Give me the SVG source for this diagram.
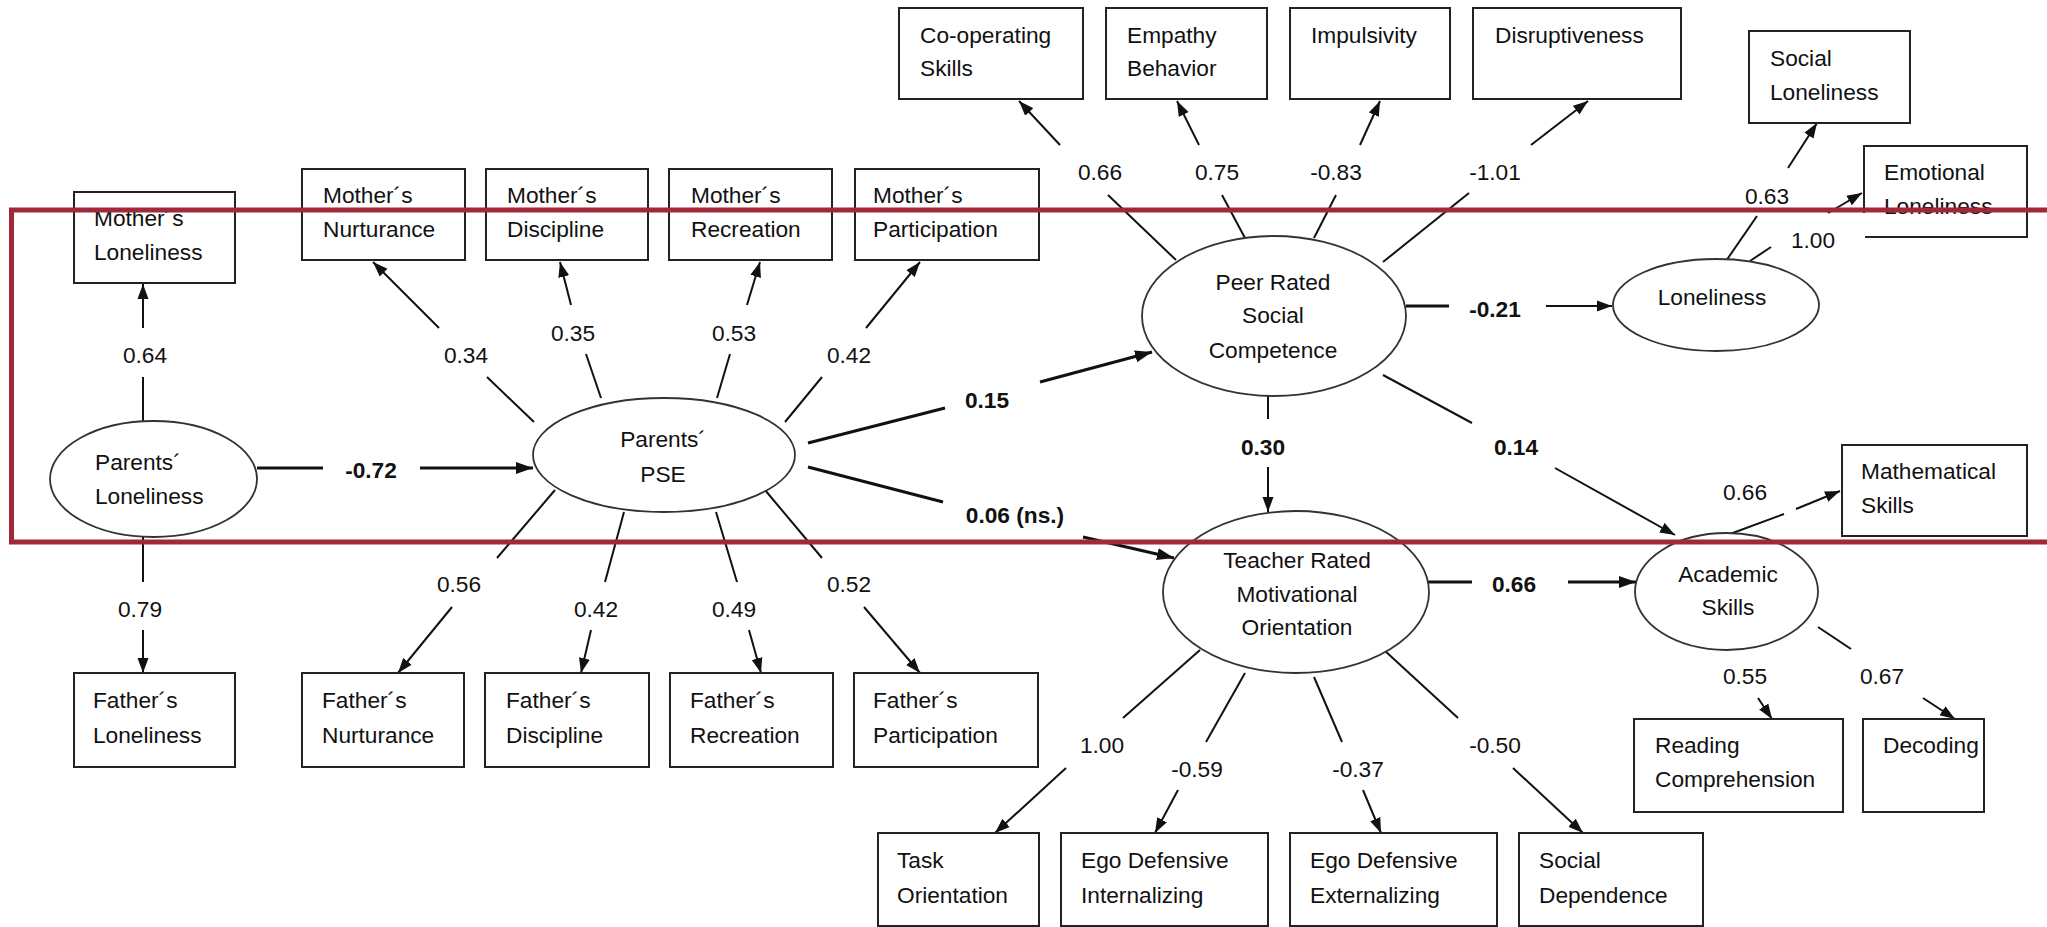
<svg xmlns="http://www.w3.org/2000/svg" width="2047" height="927" viewBox="0 0 2047 927">
<style>
text{font-family:"Liberation Sans",Arial,sans-serif;font-size:22.7px;fill:#111;}
.b{font-weight:bold;}
.c{text-anchor:middle;}
.box{fill:#fff;stroke:#222;stroke-width:2;}
.ell{fill:#fff;stroke:#333;stroke-width:1.8;}
.ln{stroke:#111;stroke-width:2;fill:none;}
.ar{stroke:#111;stroke-width:2;fill:none;marker-end:url(#ah);}
.lnb{stroke:#111;stroke-width:3.2;fill:none;}
.arb{stroke:#111;stroke-width:3.2;fill:none;marker-end:url(#ahb);}
</style>
<defs>
<marker id="ah" markerUnits="userSpaceOnUse" markerWidth="16" markerHeight="12" refX="15" refY="6" orient="auto"><path d="M0,0.5 L15,6 L0,11.5 z" fill="#111"/></marker>
<marker id="ahb" markerUnits="userSpaceOnUse" markerWidth="18" markerHeight="14" refX="17" refY="7" orient="auto"><path d="M0,1 L17,7 L0,13 z" fill="#111"/></marker>
</defs>
<rect width="2047" height="927" fill="#fff"/>

<g id="connectors">
<!-- Parents' Loneliness -->
<line class="ln" x1="143" y1="421" x2="143" y2="377"/><line class="ar" x1="143" y1="328" x2="143" y2="284"/>
<line class="ln" x1="143" y1="537" x2="143" y2="582"/><line class="ar" x1="143" y1="630" x2="143" y2="673"/>
<line class="lnb" x1="257" y1="468" x2="323" y2="468"/><line class="arb" x1="420" y1="468" x2="533" y2="468"/>
<!-- PSE up -->
<line class="ln" x1="534" y1="422" x2="487" y2="377"/><line class="ar" x1="439" y1="328" x2="373" y2="262"/>
<line class="ln" x1="601" y1="398" x2="586" y2="354"/><line class="ar" x1="571" y1="305" x2="560" y2="262"/>
<line class="ln" x1="717" y1="398" x2="730" y2="354"/><line class="ar" x1="747" y1="305" x2="760" y2="262"/>
<line class="ln" x1="785" y1="422" x2="822" y2="377"/><line class="ar" x1="866" y1="328" x2="920" y2="262"/>
<!-- PSE down -->
<line class="ln" x1="555" y1="490" x2="497" y2="558"/><line class="ar" x1="452" y1="607" x2="398" y2="673"/>
<line class="ln" x1="624" y1="512" x2="605" y2="582"/><line class="ar" x1="591" y1="630" x2="581" y2="673"/>
<line class="ln" x1="716" y1="512" x2="737" y2="582"/><line class="ar" x1="749" y1="630" x2="761" y2="673"/>
<line class="ln" x1="765" y1="490" x2="822" y2="558"/><line class="ar" x1="864" y1="607" x2="920" y2="673"/>
<!-- PSE to Peer / Teacher -->
<line class="lnb" x1="808" y1="443" x2="945" y2="408"/><line class="arb" x1="1040" y1="382" x2="1152" y2="352"/>
<line class="lnb" x1="808" y1="467" x2="943" y2="502"/><line class="arb" x1="1083" y1="537" x2="1174" y2="558"/>
<!-- Peer up -->
<line class="ln" x1="1176" y1="260" x2="1108" y2="195"/><line class="ar" x1="1060" y1="145" x2="1019" y2="101"/>
<line class="ln" x1="1245" y1="238" x2="1222" y2="195"/><line class="ar" x1="1199" y1="145" x2="1177" y2="101"/>
<line class="ln" x1="1314" y1="238" x2="1336" y2="195"/><line class="ar" x1="1360" y1="145" x2="1380" y2="101"/>
<line class="ln" x1="1383" y1="262" x2="1469" y2="193"/><line class="ar" x1="1531" y1="145" x2="1588" y2="101"/>
<!-- Peer to Loneliness -->
<line class="lnb" x1="1406" y1="306" x2="1449" y2="306"/><line class="ar" x1="1546" y1="306" x2="1612" y2="306"/>
<!-- Peer to Teacher -->
<line class="ln" x1="1268" y1="396" x2="1268" y2="419"/><line class="ar" x1="1268" y1="467" x2="1268" y2="512"/>
<!-- Peer to Academic -->
<line class="ln" x1="1383" y1="375" x2="1472" y2="423"/><line class="ar" x1="1555" y1="468" x2="1675" y2="535"/>
<!-- Loneliness up -->
<line class="ln" x1="1726" y1="261" x2="1757" y2="216"/><line class="ar" x1="1788" y1="168" x2="1817" y2="123"/>
<line class="ln" x1="1750" y1="261" x2="1771" y2="247"/><line class="ar" x1="1828" y1="213" x2="1862" y2="193"/>
<!-- Teacher to Academic -->
<line class="lnb" x1="1428" y1="582" x2="1472" y2="582"/><line class="arb" x1="1568" y1="582" x2="1636" y2="582"/>
<!-- Academic -->
<line class="ln" x1="1730" y1="534" x2="1784" y2="514"/><line class="ar" x1="1796" y1="509" x2="1840" y2="491"/>
<line class="ar" x1="1758" y1="698" x2="1772" y2="719"/>
<line class="ln" x1="1818" y1="627" x2="1851" y2="649"/><line class="ar" x1="1923" y1="698" x2="1955" y2="719"/>
<!-- Teacher down -->
<line class="ln" x1="1200" y1="650" x2="1123" y2="718"/><line class="ar" x1="1066" y1="768" x2="995" y2="833"/>
<line class="ln" x1="1245" y1="673" x2="1206" y2="742"/><line class="ar" x1="1178" y1="790" x2="1155" y2="833"/>
<line class="ln" x1="1314" y1="677" x2="1342" y2="742"/><line class="ar" x1="1363" y1="790" x2="1381" y2="833"/>
<line class="ln" x1="1384" y1="650" x2="1458" y2="718"/><line class="ar" x1="1513" y1="768" x2="1583" y2="833"/>
</g>

<g id="labels">
<text class="c" x="145" y="363">0.64</text>
<text class="c" x="140" y="617">0.79</text>
<text class="c b" x="371" y="478">-0.72</text>
<text class="c" x="466" y="363">0.34</text>
<text class="c" x="573" y="341">0.35</text>
<text class="c" x="734" y="341">0.53</text>
<text class="c" x="849" y="363">0.42</text>
<text class="c" x="459" y="592">0.56</text>
<text class="c" x="596" y="617">0.42</text>
<text class="c" x="734" y="617">0.49</text>
<text class="c" x="849" y="592">0.52</text>
<text class="c b" x="987" y="408">0.15</text>
<text class="c b" x="1015" y="523">0.06 (ns.)</text>
<text class="c" x="1100" y="180">0.66</text>
<text class="c" x="1217" y="180">0.75</text>
<text class="c" x="1336" y="180">-0.83</text>
<text class="c" x="1495" y="180">-1.01</text>
<text class="c b" x="1495" y="317">-0.21</text>
<text class="c b" x="1263" y="455">0.30</text>
<text class="c b" x="1516" y="455">0.14</text>
<text class="c" x="1767" y="204">0.63</text>
<text class="c" x="1813" y="248">1.00</text>
<text class="c b" x="1514" y="592">0.66</text>
<text class="c" x="1745" y="500">0.66</text>
<text class="c" x="1745" y="684">0.55</text>
<text class="c" x="1882" y="684">0.67</text>
<text class="c" x="1102" y="753">1.00</text>
<text class="c" x="1197" y="777">-0.59</text>
<text class="c" x="1358" y="777">-0.37</text>
<text class="c" x="1495" y="753">-0.50</text>
</g>

<g id="parents-loneliness"><ellipse class="ell" cx="153.5" cy="479" rx="103.5" ry="58"/><text x="95" y="470">Parents´</text><text x="95" y="504">Loneliness</text></g>
<g id="parents-pse"><ellipse class="ell" cx="664" cy="455" rx="131" ry="57"/><text class="c" x="663" y="447">Parents´</text><text class="c" x="663" y="482">PSE</text></g>
<g id="peer-social-competence"><ellipse class="ell" cx="1274" cy="316" rx="132" ry="80"/><text class="c" x="1273" y="290">Peer Rated</text><text class="c" x="1273" y="323">Social</text><text class="c" x="1273" y="358">Competence</text></g>
<g id="loneliness"><ellipse class="ell" cx="1716" cy="305" rx="103" ry="46"/><text class="c" x="1712" y="305">Loneliness</text></g>
<g id="teacher-motivational"><ellipse class="ell" cx="1296" cy="592" rx="133" ry="81"/><text class="c" x="1297" y="568">Teacher Rated</text><text class="c" x="1297" y="602">Motivational</text><text class="c" x="1297" y="635">Orientation</text></g>
<g id="academic-skills"><ellipse class="ell" cx="1726.5" cy="591.5" rx="91.5" ry="58.5"/><text class="c" x="1728" y="582">Academic</text><text class="c" x="1728" y="615">Skills</text></g>

<g id="mothers-loneliness"><rect class="box" x="74" y="192" width="161" height="91"/><text x="94" y="226">Mother´s</text><text x="94" y="260">Loneliness</text></g>
<g id="mothers-nurturance"><rect class="box" x="302" y="169" width="163" height="91"/><text x="323" y="203">Mother´s</text><text x="323" y="237">Nurturance</text></g>
<g id="mothers-discipline"><rect class="box" x="486" y="169" width="162" height="91"/><text x="507" y="203">Mother´s</text><text x="507" y="237">Discipline</text></g>
<g id="mothers-recreation"><rect class="box" x="669" y="169" width="163" height="91"/><text x="691" y="203">Mother´s</text><text x="691" y="237">Recreation</text></g>
<g id="mothers-participation"><rect class="box" x="855" y="169" width="184" height="91"/><text x="873" y="203">Mother´s</text><text x="873" y="237">Participation</text></g>

<g id="fathers-loneliness"><rect class="box" x="74" y="673" width="161" height="94"/><text x="93" y="708">Father´s</text><text x="93" y="743">Loneliness</text></g>
<g id="fathers-nurturance"><rect class="box" x="302" y="673" width="162" height="94"/><text x="322" y="708">Father´s</text><text x="322" y="743">Nurturance</text></g>
<g id="fathers-discipline"><rect class="box" x="485" y="673" width="164" height="94"/><text x="506" y="708">Father´s</text><text x="506" y="743">Discipline</text></g>
<g id="fathers-recreation"><rect class="box" x="670" y="673" width="163" height="94"/><text x="690" y="708">Father´s</text><text x="690" y="743">Recreation</text></g>
<g id="fathers-participation"><rect class="box" x="854" y="673" width="184" height="94"/><text x="873" y="708">Father´s</text><text x="873" y="743">Participation</text></g>

<g id="co-operating-skills"><rect class="box" x="899" y="8" width="184" height="91"/><text x="920" y="43">Co-operating</text><text x="920" y="76">Skills</text></g>
<g id="empathy-behavior"><rect class="box" x="1106" y="8" width="161" height="91"/><text x="1127" y="43">Empathy</text><text x="1127" y="76">Behavior</text></g>
<g id="impulsivity"><rect class="box" x="1290" y="8" width="160" height="91"/><text x="1311" y="43">Impulsivity</text></g>
<g id="disruptiveness"><rect class="box" x="1473" y="8" width="208" height="91"/><text x="1495" y="43">Disruptiveness</text></g>

<g id="social-loneliness"><rect class="box" x="1749" y="31" width="161" height="92"/><text x="1770" y="66">Social</text><text x="1770" y="100">Loneliness</text></g>
<g id="emotional-loneliness"><rect x="1864" y="146" width="163" height="91" fill="#fff"/><path class="box" d="M1864,213 V146 H2027 V237 H1865" fill="none"/><text x="1884" y="180">Emotional</text><text x="1884" y="214">Loneliness</text></g>
<g id="mathematical-skills"><rect class="box" x="1842" y="445" width="185" height="91"/><text x="1861" y="479">Mathematical</text><text x="1861" y="513">Skills</text></g>
<g id="reading-comprehension"><rect class="box" x="1634" y="719" width="209" height="93"/><text x="1655" y="753">Reading</text><text x="1655" y="787">Comprehension</text></g>
<g id="decoding"><rect class="box" x="1863" y="719" width="121" height="93"/><text x="1883" y="753">Decoding</text></g>

<g id="task-orientation"><rect class="box" x="878" y="833" width="161" height="93"/><text x="897" y="868">Task</text><text x="897" y="903">Orientation</text></g>
<g id="ego-internalizing"><rect class="box" x="1061" y="833" width="207" height="93"/><text x="1081" y="868">Ego Defensive</text><text x="1081" y="903">Internalizing</text></g>
<g id="ego-externalizing"><rect class="box" x="1290" y="833" width="207" height="93"/><text x="1310" y="868">Ego Defensive</text><text x="1310" y="903">Externalizing</text></g>
<g id="social-dependence"><rect class="box" x="1519" y="833" width="184" height="93"/><text x="1539" y="868">Social</text><text x="1539" y="903">Dependence</text></g>

<path id="highlight" d="M2060,210 H11.5 V542 H2060" fill="none" stroke="#a3273a" stroke-width="5"/>
</svg>
